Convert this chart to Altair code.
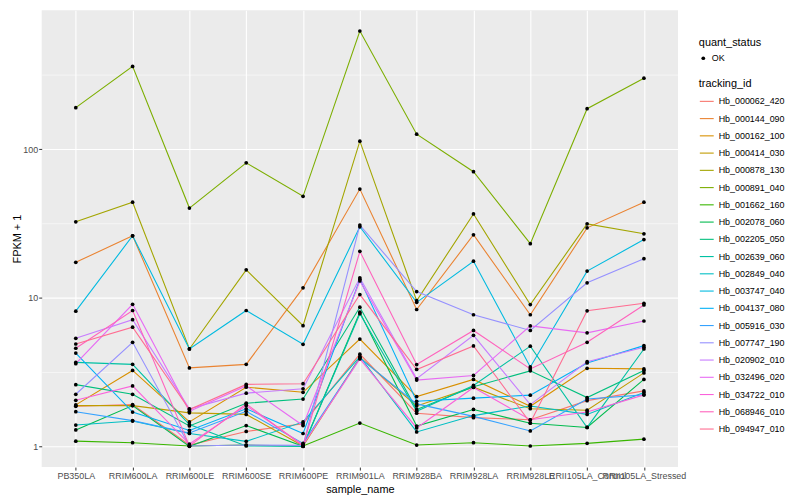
import altair as alt
import pandas as pd

samples = ["PB350LA", "RRIM600LA", "RRIM600LE", "RRIM600SE", "RRIM600PE", "RRIM901LA",
           "RRIM928BA", "RRIM928LA", "RRIM928LE", "RRII105LA_Control", "RRII105LA_Stressed"]

ids = ["Hb_000062_420", "Hb_000144_090", "Hb_000162_100", "Hb_000414_030", "Hb_000878_130",
       "Hb_000891_040", "Hb_001662_160", "Hb_002078_060", "Hb_002205_050", "Hb_002639_060",
       "Hb_002849_040", "Hb_003747_040", "Hb_004137_080", "Hb_005916_030", "Hb_007747_190",
       "Hb_020902_010", "Hb_032496_020", "Hb_034722_010", "Hb_068946_010", "Hb_094947_010"]

colors = ["#F8766D", "#EA8331", "#D89000", "#C09B00", "#A3A500", "#7CAE00", "#39B600", "#00BB4E",
          "#00BF7D", "#00C1A3", "#00BFC4", "#00BAE0", "#00B0F6", "#35A2FF", "#9590FF", "#C77CFF",
          "#E76BF3", "#FA62DB", "#FF62BC", "#FF6C91"]

# FPKM + 1 per tracking_id, in sample order
v_000062_420 = [1.86, 1.91, 1.02, 1.26, 1.42, 4.17, 1.67, 1.56, 1.51, 2.03, 2.36]
v_000144_090 = [17.3, 26.1, 3.37, 3.56, 11.65, 53.8, 8.33, 26.5, 7.68, 29.5, 43.9]
v_000162_100 = [1.90, 3.24, 1.46, 2.50, 2.31, 5.27, 2.16, 2.82, 1.86, 3.35, 3.32]
v_000414_030 = [1.88, 1.88, 1.68, 1.64, 1.005, 3.97, 1.87, 2.50, 1.79, 1.75, 3.12]
v_000878_130 = [32.4, 43.9, 4.52, 15.4, 6.48, 113.0, 9.55, 36.6, 8.99, 31.4, 26.9]
v_000891_040 = [190.0, 360.0, 40.1, 80.8, 48.1, 623.0, 126.0, 70.4, 23.1, 187.0, 300.0]
v_001662_160 = [1.084, 1.058, 1.005, 1.02, 1.005, 1.435, 1.02, 1.058, 1.005, 1.047, 1.118]
v_002078_060 = [1.29, 1.88, 1.0, 1.38, 1.0, 7.99, 1.37, 1.77, 1.43, 1.34, 2.82]
v_002205_050 = [2.60, 2.24, 1.37, 1.95, 2.08, 8.63, 1.77, 2.52, 3.22, 2.13, 3.24]
v_002639_060 = [3.67, 3.56, 1.40, 1.005, 1.0, 7.80, 1.72, 2.57, 4.72, 1.34, 4.52]
v_002849_040 = [1.39, 1.48, 1.22, 1.08, 1.46, 4.02, 1.25, 1.61, 1.87, 1.64, 2.30]
v_003747_040 = [8.12, 26.1, 4.52, 8.20, 4.86, 30.0, 9.31, 17.6, 3.42, 15.1, 24.6]
v_004137_080 = [4.24, 1.70, 1.28, 1.79, 1.22, 13.3, 2.01, 2.11, 2.21, 3.64, 4.76]
v_005916_030 = [1.71, 1.49, 1.23, 1.72, 1.047, 3.93, 1.93, 1.59, 1.27, 2.08, 2.22]
v_007747_190 = [2.24, 5.01, 1.005, 1.02, 1.015, 30.8, 11.0, 7.68, 6.02, 12.6, 18.3]
v_020902_010 = [5.33, 7.12, 1.79, 2.28, 2.44, 13.6, 2.85, 5.58, 1.91, 3.71, 4.64]
v_032496_020 = [3.60, 9.03, 1.72, 2.55, 1.38, 12.96, 2.79, 3.00, 6.46, 5.80, 6.97]
v_034722_010 = [2.04, 2.55, 1.036, 1.88, 1.02, 3.87, 1.33, 2.49, 1.51, 1.70, 2.22]
v_068946_010 = [4.57, 8.20, 1.005, 1.93, 1.005, 20.5, 3.55, 6.02, 3.32, 5.01, 8.94]
v_094947_010 = [4.88, 6.33, 1.77, 2.61, 2.64, 10.5, 3.29, 4.74, 1.44, 8.16, 9.17]

series = [v_000062_420, v_000144_090, v_000162_100, v_000414_030, v_000878_130,
          v_000891_040, v_001662_160, v_002078_060, v_002205_050, v_002639_060,
          v_002849_040, v_003747_040, v_004137_080, v_005916_030, v_007747_190,
          v_020902_010, v_032496_020, v_034722_010, v_068946_010, v_094947_010]

y_ticks = [1, 3.1623, 10, 31.623, 100, 316.23]

rows = []
for tid, vals in zip(ids, series):
    for s, v in zip(samples, vals):
        rows.append({"sample_name": s, "tracking_id": tid, "fpkm": v, "quant_status": "OK"})
df = pd.DataFrame(rows)

major = "datum.value == 1 || datum.value == 10 || datum.value == 100"

x_enc = alt.X("sample_name:N", sort=samples, title="sample_name",
              scale=alt.Scale(type="point", padding=0.6),
              axis=alt.Axis(labelAngle=0, labelOverlap=False, domain=False, grid=True,
                            gridColor="white", gridWidth=1.1, tickColor="#333333",
                            tickSize=3, labelPadding=2, labelFontSize=9,
                            labelColor="#4D4D4D", titleFontSize=11, titleFontWeight="normal",
                            titleColor="black", titlePadding=3))
y_enc = alt.Y("fpkm:Q", title="FPKM + 1",
              scale=alt.Scale(type="log", domain=[0.725, 860], nice=False),
              axis=alt.Axis(values=y_ticks, domain=False, grid=True, gridColor="white",
                            gridWidth={"condition": {"test": major, "value": 1.1}, "value": 0.55},
                            tickOpacity={"condition": {"test": major, "value": 1}, "value": 0},
                            labelExpr="(" + major + ") ? format(datum.value, 'd') : ''",
                            tickColor="#333333", tickSize=3, labelPadding=1, labelFontSize=9,
                            labelColor="#4D4D4D", titleFontSize=11, titleFontWeight="normal",
                            titleColor="black", titlePadding=0))

base = alt.Chart(df).encode(x=x_enc, y=y_enc)

lines = base.mark_line(strokeWidth=1.1).encode(
    stroke=alt.Stroke("tracking_id:N", scale=alt.Scale(domain=ids, range=colors),
                      legend=alt.Legend(title="tracking_id", orient="none", legendX=663,
                                        legendY=69, symbolType="stroke", symbolSize=196,
                                        symbolStrokeWidth=1.1, rowPadding=4.4,
                                        labelFontSize=9, labelColor="black",
                                        titleFontSize=11, titleFontWeight="normal",
                                        titlePadding=4))
)

points = base.mark_point(filled=True, size=14, opacity=1).encode(
    fill=alt.Fill("quant_status:N", scale=alt.Scale(domain=["OK"], range=["black"]),
                  legend=alt.Legend(title="quant_status", orient="none", legendX=663,
                                    legendY=27, symbolType="circle", symbolSize=14,
                                    labelFontSize=9, labelColor="black",
                                    titleFontSize=11, titleFontWeight="normal",
                                    titlePadding=6))
)

chart = alt.layer(lines, points).properties(
    width=642, height=461,
    autosize=alt.AutoSizeParams(type="none"),
    padding={"left": 34, "top": 0, "right": 115, "bottom": 30},
    background="white",
).configure(font="Liberation Sans").configure_view(fill="#EBEBEB", strokeWidth=0)

chart.save("out.html", embed_options={"renderer": "svg", "actions": False})
